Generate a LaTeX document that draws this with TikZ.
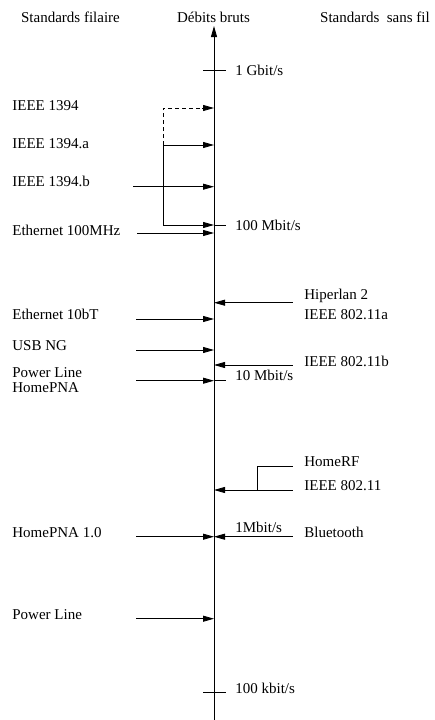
\documentclass[tikz,border=0pt]{standalone}
\usepackage{fontspec}
\setmainfont{Liberation Serif}
\usetikzlibrary{arrows.meta}
\tikzset{
  arr/.style={-{Triangle[length=11pt,width=6pt]}},
  lbl/.style={anchor=base west,inner sep=0pt,font=\fontsize{15}{18}\selectfont},
  hdr/.style={anchor=base,inner sep=0pt,font=\fontsize{15}{18}\selectfont},
  dsh/.style={dash pattern=on 4pt off 3pt}
}
\begin{document}
\begin{tikzpicture}[x=1pt,y=-1pt,line width=0.8pt]
\useasboundingbox (0,0) rectangle (435,720);
% headers
\node[hdr] (hl) at (70.5,23) {Standards filaire};
\node[hdr] (hm) at (213.5,23) {Débits bruts};
\node[hdr] (hr) at (375,23) {Standards\ \ sans fil};
% axis
\coordinate (top) at (214,26);
\coordinate (bot) at (214,720);
\draw[arr] (bot) -- (top);
% ticks
\coordinate (t1a) at (203,70); \coordinate (t1b) at (226,70);
\draw (t1a) -- (t1b);
\node[lbl] (g1) at (235,75) {1 Gbit/s};
\coordinate (t2a) at (203,692); \coordinate (t2b) at (226,692);
\draw (t2a) -- (t2b);
\node[lbl] (k100) at (235,693) {100 kbit/s};
% left labels
\node[lbl] (l1) at (12,110) {IEEE 1394};
\node[lbl] (l2) at (12,148) {IEEE 1394.a};
\node[lbl] (l3) at (12,186.5) {IEEE 1394.b};
\node[lbl] (l4) at (12,235) {Ethernet 100MHz};
\node[lbl] (l5) at (12,319) {Ethernet 10bT};
\node[lbl] (l6) at (12,350.5) {USB NG};
\node[lbl] (l7) at (12,377) {Power Line};
\node[lbl] (l8) at (12,392.7) {HomePNA};
\node[lbl] (l9) at (12,537) {HomePNA 1.0};
\node[lbl] (l10) at (12,619) {Power Line};
% right labels
\node[lbl] (r1) at (304,299) {Hiperlan 2};
\node[lbl] (r2) at (304,319) {IEEE 802.11a};
\node[lbl] (r3) at (304,366) {IEEE 802.11b};
\node[lbl] (m10) at (235,380.7) {10 Mbit/s};
\node[lbl] (r4) at (304,466.7) {HomeRF};
\node[lbl] (r5) at (304,490.7) {IEEE 802.11};
\node[lbl] (r6) at (304,537) {Bluetooth};
\node[lbl] (m1) at (235,532.7) {1Mbit/s};
\node[lbl] (m100) at (235,230) {100 Mbit/s};
% IEEE 1394 family
\coordinate (s1) at (163,108);   \coordinate (e1) at (214,108);
\coordinate (d1) at (202,108);
\coordinate (s2) at (163,145);   \coordinate (e2) at (214,145);
\coordinate (s3) at (133,186.7); \coordinate (e3) at (214,186.7);
\coordinate (s4) at (163,225);   \coordinate (e4) at (214,225);
\coordinate (t4) at (226,225);
\coordinate (s5) at (137,233);   \coordinate (e5) at (214,233);
\draw[dsh] (s2) -- (s1) -- (d1);
\draw[arr] (d1) -- (e1);
\draw[arr] (s2) -- (e2);
\draw (s2) -- (s4);
\draw[arr] (s3) -- (e3);
\draw[arr] (s4) -- (e4);
\draw (e4) -- (t4);
\draw[arr] (s5) -- (e5);
% wireless top
\coordinate (w1) at (292.5,302.7); \coordinate (a1) at (214,302.7);
\draw[arr] (w1) -- (a1);
\coordinate (s6) at (136,319); \coordinate (e6) at (214,319);
\draw[arr] (s6) -- (e6);
\coordinate (s7) at (136,350); \coordinate (e7) at (214,350);
\draw[arr] (s7) -- (e7);
\coordinate (w2) at (292.5,365); \coordinate (a2) at (214,365);
\draw[arr] (w2) -- (a2);
\coordinate (s8) at (136,380.7); \coordinate (e8) at (214,380.7);
\coordinate (t8) at (226,380.7);
\draw[arr] (s8) -- (e8);
\draw (e8) -- (t8);
% HomeRF / 802.11
\coordinate (hrf) at (292.5,466.7); \coordinate (hrk) at (257,466.7);
\coordinate (hrj) at (257,490);
\coordinate (w3) at (292.5,490); \coordinate (a3) at (214,490);
\draw (hrf) -- (hrk) -- (hrj);
\draw[arr] (w3) -- (a3);
% 1 Mbit/s
\coordinate (s9) at (136,536.7); \coordinate (e9) at (214,536.7);
\coordinate (w4) at (292.5,536.7);
\draw[arr] (s9) -- (e9);
\draw[arr] (w4) -- (e9);
% Power line bottom
\coordinate (s10) at (136,618.7); \coordinate (e10) at (214,618.7);
\draw[arr] (s10) -- (e10);
\end{tikzpicture}
\end{document}
